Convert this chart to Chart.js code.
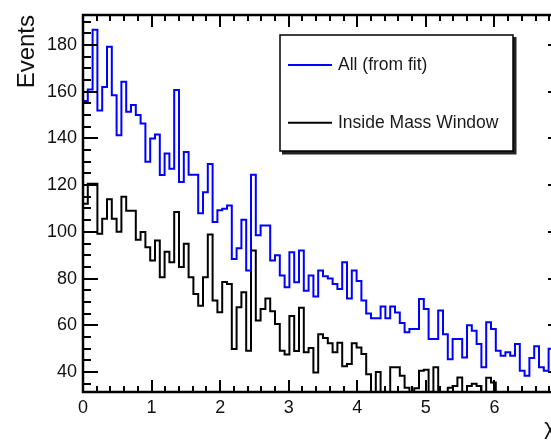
<!DOCTYPE html>
<html>
<head>
<meta charset="utf-8">
<script src="https://cdn.jsdelivr.net/npm/chart.js@4.4.1/dist/chart.umd.min.js"></script>
<style>
html, body { margin: 0; padding: 0; overflow: hidden; background: #fff; }
canvas { display: block; }
</style>
</head>
<body>
<canvas id="grafico" width="600" height="444"></canvas>
<script>
// histograma com 100 bins de largura 0.07 (de 0 a 7)
const binInicio = 0;
const binLargura = 0.07;

const eventosTodos = [
    156, 161, 186.5, 152, 162, 179.3, 158.5, 141.4, 164.3, 151.4,
    154.3, 150, 146.4, 130, 140, 141.7, 124.3, 133.5, 127, 160.7,
    121.3, 134.2, 124.5, 124.5, 108, 117, 129, 104.2, 109.2, 109.9,
    111.3, 88.4, 93, 105.2, 83.4, 124.5, 98.5, 102.7, 102.7, 87.7,
    90, 81.3, 76.3, 91.3, 78.4, 92, 74.8, 81.3, 72.3, 83.4,
    81, 80, 77.7, 75.5, 87, 71.5, 83.4, 79, 70.6, 65,
    63, 63, 68, 63, 68, 65.5, 61, 57, 58.4, 58.4,
    71.3, 67, 54.1, 54.1, 66.3, 56.2, 45.5, 54.1, 54.1, 46.2,
    60, 57.7, 52, 42, 61.3, 58.4, 49.1, 47, 48.4, 47,
    52, 40.5, 38.4, 46, 51, 42, 40.5, 50, 45, 42
];

const eventosJanela = [
    112, 120.6, 120.6, 99.2, 105.6, 114, 105.6, 100, 115, 109,
    109, 96.6, 99.9, 93.4, 87.7, 96.3, 80.6, 91.5, 87, 108.5,
    84.9, 94.9, 80.6, 73.4, 68.4, 80.6, 98.9, 70.6, 65.6, 78.5,
    77.7, 49.8, 67.7, 74.1, 49.1, 92, 62, 67, 71.5, 66,
    60.5, 49.1, 47.5, 64, 49, 67.5, 48.5, 50.3, 39.8, 56.2,
    54.5, 52.3, 48.5, 52.5, 42.5, 43.4, 52.3, 50.5, 47.7, 39,
    28, 40, 28, 28, 42, 42, 38.4, 33.3, 28, 33,
    40.5, 41, 28, 42, 28, 28, 33.3, 34, 37.6, 28,
    34, 35, 34, 28, 37.5, 35.5, 28, 28, 28, 28,
    28, 28, 28, 28, 28, 28, 28, 28, 28, 28
];

const nomesSeries = ['All (from fit)', 'Inside Mass Window'];
const xTicks = [0, 1, 2, 3, 4, 5, 6, 7];
const yTicks = [40, 60, 80, 100, 120, 140, 160, 180];

const fonte = '"Liberation Sans", Arial, sans-serif';

// cada bin vira um ponto na borda inferior; o último ponto fecha o bin final
function pontosHistograma(valores) {
    const pontos = valores.map((v, i) => ({ x: binInicio + i * binLargura, y: v }));
    pontos.push({ x: binInicio + valores.length * binLargura, y: valores[valores.length - 1] });
    return pontos;
}

// moldura com marcas para dentro, nos quatro lados
const moldura = {
    id: 'moldura',
    afterDatasetsDraw(chart) {
        const { ctx, chartArea: a, scales: { x, y } } = chart;
        ctx.save();
        ctx.strokeStyle = '#000';
        ctx.lineWidth = 2;
        ctx.beginPath();
        for (let v = 35; v <= 190; v += 5) {
            const py = Math.round(y.getPixelForValue(v));
            const len = v % 20 === 0 ? 15 : 8;
            ctx.moveTo(a.left, py); ctx.lineTo(a.left + len, py);
            ctx.moveTo(a.right, py); ctx.lineTo(a.right - len, py);
        }
        for (let i = 0; i <= 35; i++) {
            const px = Math.round(x.getPixelForValue(i * 0.2));
            const len = i % 5 === 0 ? 12 : 6;
            ctx.moveTo(px, a.bottom); ctx.lineTo(px, a.bottom - len);
            ctx.moveTo(px, a.top); ctx.lineTo(px, a.top + len);
        }
        ctx.stroke();
        ctx.lineWidth = 2.5;
        ctx.strokeRect(a.left, a.top, a.right - a.left, a.bottom - a.top);
        ctx.restore();
    }
};

const legendaCaixa = {
    id: 'legendaCaixa',
    afterDraw(chart) {
        const { ctx } = chart;
        const bx = 280, by = 35, bw = 233, bh = 116;
        ctx.save();
        ctx.fillStyle = '#222';
        ctx.fillRect(bx + 2, by + 2, bw + 1.5, bh + 1.5);
        ctx.fillStyle = '#fff';
        ctx.fillRect(bx, by, bw, bh);
        ctx.strokeStyle = '#000';
        ctx.lineWidth = 1.5;
        ctx.strokeRect(bx, by, bw, bh);
        chart.data.datasets.forEach((ds, i) => {
            const ly = by + 30 + i * 57.7;
            ctx.strokeStyle = ds.borderColor;
            ctx.lineWidth = 2;
            ctx.beginPath();
            ctx.moveTo(bx + 8, ly);
            ctx.lineTo(bx + 52, ly);
            ctx.stroke();
            ctx.fillStyle = '#1a1a1a';
            ctx.font = '17.5px ' + fonte;
            ctx.textBaseline = 'middle';
            ctx.fillText(ds.label, bx + 58, ly);
        });
        ctx.restore();
    }
};

const ctx = document.getElementById('grafico').getContext('2d');
new Chart(ctx, {
    type: 'line',
    data: {
        datasets: [
            {
                label: nomesSeries[0],
                data: pontosHistograma(eventosTodos),
                borderColor: '#0000ff',
                borderWidth: 2,
                stepped: true,
                pointRadius: 0,
                fill: false
            },
            {
                label: nomesSeries[1],
                data: pontosHistograma(eventosJanela),
                borderColor: '#000000',
                borderWidth: 2,
                stepped: true,
                pointRadius: 0,
                fill: false
            }
        ]
    },
    options: {
        responsive: false,
        animation: false,
        layout: { padding: { top: 15, right: 37, bottom: 0, left: 0 } },
        plugins: {
            legend: { display: false },
            tooltip: { enabled: false }
        },
        scales: {
            x: {
                type: 'linear',
                min: 0,
                max: 7,
                grid: { display: false, drawTicks: false },
                border: { display: false },
                afterBuildTicks: s => { s.ticks = xTicks.map(v => ({ value: v })); },
                afterFit: s => { s.height = 52; s.paddingLeft = 0; s.paddingRight = 0; },
                ticks: {
                    padding: 5,
                    color: '#111',
                    font: { family: fonte, size: 18 },
                    maxRotation: 0,
                    autoSkip: false
                },
                title: {
                    display: true,
                    text: 'χ²',
                    align: 'end',
                    color: '#111',
                    font: { family: fonte, size: 22 },
                    padding: { top: 0, bottom: 3 }
                }
            },
            y: {
                type: 'linear',
                min: 31.43,
                max: 192.85,
                grid: { display: false, drawTicks: false },
                border: { display: false },
                afterBuildTicks: s => { s.ticks = yTicks.map(v => ({ value: v })); },
                afterFit: s => { s.width = 83; s.paddingTop = 0; s.paddingBottom = 0; },
                ticks: {
                    padding: 6,
                    color: '#111',
                    font: { family: fonte, size: 18 }
                },
                title: {
                    display: true,
                    text: 'Events',
                    align: 'end',
                    color: '#111',
                    font: { family: fonte, size: 24 },
                    padding: { top: 13, bottom: 0 }
                }
            }
        }
    },
    plugins: [moldura, legendaCaixa]
});
</script>
</body>
</html>
